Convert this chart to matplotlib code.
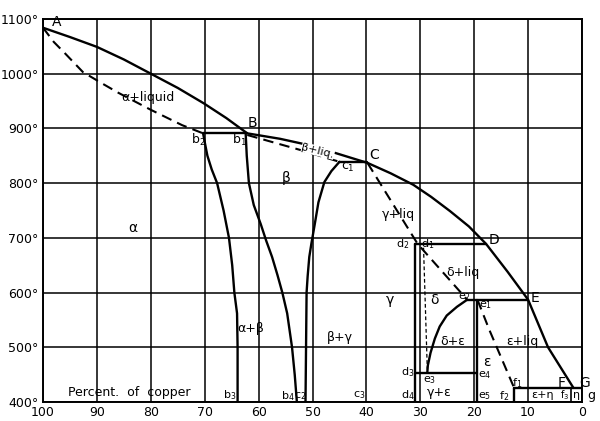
import matplotlib
matplotlib.use('Agg')
import matplotlib.pyplot as plt

# percent copper (x) / temperature (t)
liq_x = [100, 95, 90, 85, 80, 75, 70.2, 66, 62.1, 56, 50, 39.8, 35.5, 31.3, 28, 24.5, 21, 17.8,
         13.8, 10.0, 6.3, 1.6]
liq_t = [1084, 1067, 1049, 1026, 1000, 974, 946, 919, 891, 881, 868, 837, 818, 797, 775, 749,
         721, 689, 638, 587, 500, 426]

sol_x = [100, 98, 96, 92.6, 89, 86, 80, 74.2, 70.3]
sol_t = [1084, 1058, 1038, 1003, 982, 965, 934, 906, 891]

b2_x = [70.3, 69.9, 69.5, 68.7, 67.7, 66.5, 65.5, 64.9, 64.5, 64.0, 63.9, 63.9]
b2_t = [891, 870, 850, 825, 800, 750, 700, 650, 600, 562, 500, 400]

b1_x = [62.4, 62.2, 61.8, 60.9, 59.6, 58.6, 57.5, 56.5, 55.6, 54.7, 53.8, 53.3, 52.9]
b1_t = [891, 850, 800, 760, 725, 695, 665, 632, 600, 562, 500, 450, 400]

c1_x = [45.0, 46.5, 47.8, 48.9, 49.6, 50.2, 50.6, 50.9, 51.1, 51.2, 51.3]
c1_t = [839, 822, 802, 765, 724, 690, 665, 630, 600, 500, 400]

bc_x = [62.1, 52.4, 45.0]          # beta solidus b1 -> c1
bc_t = [888, 861, 839]

cd_x = [39.8, 30.5, 21.3]          # C -> d1 -> e2
cd_t = [837, 689, 587]

de_x = [29.4, 28.7]                # gamma+delta / delta
de_t = [682, 459]

e2e3_x = [21.3, 23.2, 25.1, 26.4, 27.3, 28.1, 28.6, 28.7]
e2e3_t = [587, 574, 558, 538, 516, 490, 467, 454]

ef_x = [19.4, 17.2, 12.6]          # e1 -> f1
ef_t = [587, 532, 426]

gamma_x = 30.9
eps_x = 19.4
t_D, t_E, t_e3, t_f = 689, 587, 453, 426

xticks = [100, 90, 80, 70, 60, 50, 40, 30, 20, 10, 0]
yticks = [400, 500, 600, 700, 800, 900, 1000, 1100]

labels = [
    ('A', 97.4, 1094, 10), ('α+liquid', 80.5, 956, 9), ('B', 61.2, 910, 10),
    ('b$_2$', 71.2, 879, 9), ('b$_1$', 63.6, 879, 9), ('C', 38.6, 851, 10),
    ('c$_1$', 43.4, 828, 9), ('β', 54.9, 810, 10), ('α', 83.3, 718, 10),
    ('γ+liq', 34.1, 742, 9), ('D', 16.4, 696, 10), ('d$_2$', 33.2, 688, 8),
    ('d$_1$', 28.6, 688, 8), ('δ+liq', 22.1, 637, 9), ('α+β', 61.4, 535, 9),
    ('β+γ', 44.9, 517, 9), ('γ', 35.6, 586, 10), ('δ', 27.3, 586, 10),
    ('e$_2$', 21.8, 592, 8), ('e$_1$', 17.8, 578, 8), ('E', 8.8, 590, 10),
    ('δ+ε', 24.0, 510, 9), ('ε+liq', 11.0, 510, 9), ('ε', 17.6, 473, 10),
    ('d$_3$', 32.4, 455, 8), ('e$_3$', 28.3, 440, 8), ('e$_4$', 18.0, 449, 8),
    ('γ+ε', 26.5, 418, 9), ('d$_4$', 32.4, 412, 8), ('e$_5$', 18.0, 410, 8),
    ('f$_1$', 12.0, 434, 8), ('f$_2$', 14.4, 411, 8), ('ε+η', 7.4, 413, 8),
    ('F', 3.8, 435, 10), ('G', -0.5, 435, 10), ('f$_3$', 3.3, 412, 7),
    ('η', 1.0, 412, 8), ('g', -1.7, 412, 9), ('b$_3$', 65.4, 412, 8),
    ('b$_4$', 54.5, 411, 8), ('c$_2$', 52.3, 411, 8), ('c$_3$', 41.4, 412, 8),
    ('Percent.  of  copper', 84.0, 417, 9),
]

fig = plt.figure(figsize=(6, 4.21), dpi=100)
ax = fig.add_axes([0.0717, 0.0451, 0.8983, 0.9098])
ax.set_xlim(100, 0)
ax.set_ylim(400, 1100)

for x in xticks:
    ax.axvline(x, color='black', lw=1.1, zorder=1)
for t in yticks:
    ax.axhline(t, color='black', lw=1.1, zorder=1)

solid = dict(color='black', lw=1.7, zorder=3, solid_capstyle='round', solid_joinstyle='round')
dash = dict(color='black', lw=1.5, zorder=3, dashes=(5, 3))

ax.plot(liq_x, liq_t, **solid)
ax.plot(sol_x, sol_t, **dash)
ax.plot(b2_x, b2_t, **solid)
ax.plot(b1_x, b1_t, **solid)
ax.plot(c1_x, c1_t, **solid)
ax.plot(bc_x, bc_t, **dash)
ax.plot(cd_x, cd_t, **dash)
ax.plot(de_x, de_t, color='black', lw=0.9, dashes=(3, 2), zorder=3)
ax.plot(e2e3_x, e2e3_t, **solid)
ax.plot(ef_x, ef_t, **dash)

# horizontal lines
ax.plot([sol_x[-1], 62.1], [891, 891], **solid)
ax.plot([c1_x[0], 39.8], [839, 839], **solid)
ax.plot([gamma_x, 17.8], [t_D, t_D], **solid)
ax.plot([e2e3_x[0], 10.0], [t_E, t_E], **solid)
ax.plot([gamma_x, eps_x], [t_e3, t_e3], **solid)
ax.plot([ef_x[-1], 0], [t_f, t_f], **solid)

# vertical phase boundaries
ax.plot([gamma_x, gamma_x], [t_D, 400], **solid)
ax.plot([eps_x, eps_x], [t_E, 400], **solid)
ax.plot([ef_x[-1], ef_x[-1]], [t_f, 400], **solid)
ax.plot([2.0, 2.0], [t_f, 400], color='black', lw=1.2, zorder=3)

for s, x, t, fs in labels:
    ax.text(x, t, s, fontsize=fs, ha='center', va='center', zorder=4)
ax.text(49.0, 859, 'β+liq.', fontsize=8, ha='center', va='center', rotation=-14,
        zorder=4, bbox=dict(facecolor='white', edgecolor='none', pad=0.1))

ax.set_xticks(xticks)
ax.set_xticklabels([str(x) for x in xticks], fontsize=9)
ax.set_yticks(yticks)
ax.set_yticklabels(['%d°' % t for t in yticks], fontsize=9)
ax.tick_params(axis='x', length=0, pad=3)
ax.tick_params(axis='y', length=0, pad=3)
for sp in ax.spines.values():
    sp.set_linewidth(1.4)

fig.savefig('out.png', dpi=100)
